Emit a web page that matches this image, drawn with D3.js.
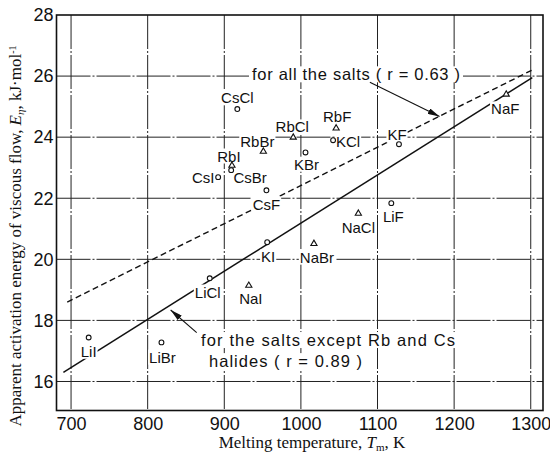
<!DOCTYPE html>
<html>
<head>
<meta charset="utf-8">
<script src="https://cdn.jsdelivr.net/npm/d3@7"></script>
<style>
  html, body { margin: 0; padding: 0; background: #fff; }
  svg { display: block; }
  .tick text { font-family: "Liberation Sans", Arial, sans-serif; font-size: 18px; fill: #111; }
  .salt { font-family: "Liberation Sans", Arial, sans-serif; font-size: 15px; fill: #111; }
  .note { font-family: "Liberation Sans", Arial, sans-serif; font-size: 16.5px; fill: #111; }
  .title { font-family: "Liberation Serif", "Times New Roman", serif; font-size: 17px; fill: #111; }
</style>
</head>
<body>
<svg id="chart" width="550" height="454"></svg>
<script>
// Alkali halides: melting temperature (K) vs. apparent activation energy of viscous flow (kJ/mol)
const salts  = ["LiI", "LiBr", "LiCl", "NaI", "KI", "CsF", "NaBr", "NaCl", "LiF", "CsCl",
                "RbCl", "RbF", "KCl", "KBr", "RbBr", "RbI", "CsBr", "CsI", "KF", "NaF"];
const meltT  = [723, 818, 881, 932, 956, 955, 1017, 1075, 1118, 917,
                990, 1046, 1042, 1006, 951, 910, 909, 892, 1128, 1268];
const energy = [17.44, 17.28, 19.38, 19.15, 20.56, 22.26, 20.52, 21.51, 21.84, 24.92,
                24.0, 24.3, 23.9, 23.5, 23.54, 23.08, 22.92, 22.69, 23.77, 25.41];
const marker = ["o", "o", "o", "t", "o", "o", "t", "t", "o", "o",
                "t", "t", "o", "o", "t", "t", "o", "o", "o", "t"];

// Regression lines (end points)
const fitAllT    = [695, 1302];
const fitAllE    = [18.6, 26.2];
const fitExceptT = [690, 1302];
const fitExceptE = [16.3, 25.95];

const xTicks = [700, 800, 900, 1000, 1100, 1200, 1300];
const yTicks = [16, 18, 20, 22, 24, 26, 28];
const yGrid  = [16, 18, 20, 22, 24, 26];

// Label placement relative to each marker (px)
const labelPos = {
  LiI: [0, 14], LiBr: [1, 15], LiCl: [-2, 14], NaI: [2, 13], KI: [1, 15], CsF: [0, 14],
  NaBr: [3, 14], NaCl: [0, 15], LiF: [2, 14], CsCl: [0, -11], RbCl: [-1, -10], RbF: [1, -11],
  KCl: [15, 2], KBr: [1, 12], RbBr: [-6, -9], RbI: [-3, -9], CsBr: [19, 8], CsI: [-15, 1],
  KF: [-2, -9], NaF: [-1, 15]
};

const svg = d3.select("#chart");
const L = 56.5, R = 543, T = 15, B = 410.5;

const x = d3.scaleLinear().domain([681, 1316]).range([L, R]);
const y = d3.scaleLinear().domain([15.05, 28]).range([B, T]);

// Grid lines
const grid = svg.append("g").attr("stroke", "#222").attr("stroke-width", 1)
  .attr("stroke-dasharray", "34,2,2,2");
grid.selectAll("line.v").data(xTicks).join("line")
  .attr("x1", d => x(d)).attr("x2", d => x(d)).attr("y1", T).attr("y2", B);
grid.selectAll("line.h").data(yGrid).join("line")
  .attr("x1", L).attr("x2", R).attr("y1", d => y(d)).attr("y2", d => y(d));

// Axes (labels only)
const xAxis = svg.append("g").attr("transform", `translate(0,${B})`)
  .call(d3.axisBottom(x).tickValues(xTicks).tickFormat(d3.format("d")).tickSize(0).tickPadding(7));
const yAxis = svg.append("g").attr("transform", `translate(${L},0)`)
  .call(d3.axisLeft(y).tickValues(yTicks).tickFormat(d3.format("d")).tickSize(0).tickPadding(3));
[xAxis, yAxis].forEach(a => a.select(".domain").remove());

// Regression lines
const line = d3.line().x(d => x(d[0])).y(d => y(d[1]));
svg.append("path").datum(d3.zip(fitAllT, fitAllE)).attr("d", line)
  .attr("fill", "none").attr("stroke", "#111").attr("stroke-width", 1.4)
  .attr("stroke-dasharray", "6,3.5");
svg.append("path").datum(d3.zip(fitExceptT, fitExceptE)).attr("d", line)
  .attr("fill", "none").attr("stroke", "#111").attr("stroke-width", 1.5);

// White box behind a text element so grid lines break around it
function backdrop(sel, pad) {
  sel.each(function () {
    const b = this.getBBox();
    d3.select(this.parentNode).insert("rect", () => this)
      .attr("x", b.x - pad).attr("y", b.y + 1).attr("width", b.width + 2 * pad)
      .attr("height", b.height - 2).attr("fill", "#fff");
  });
}

// Salt labels
const pts = salts.map((s, i) => ({ name: s, t: meltT[i], e: energy[i], m: marker[i] }));
const labels = svg.append("g").selectAll("text").data(pts).join("text")
  .attr("class", "salt")
  .attr("x", d => x(d.t) + labelPos[d.name][0])
  .attr("y", d => y(d.e) + labelPos[d.name][1])
  .attr("text-anchor", "middle")
  .attr("dy", "0.35em")
  .text(d => d.name);
backdrop(labels, 1);

// Markers
const mk = svg.append("g").attr("fill", "#fff").attr("stroke", "#111").attr("stroke-width", 1.1);
mk.selectAll("circle").data(pts.filter(d => d.m === "o")).join("circle")
  .attr("cx", d => x(d.t)).attr("cy", d => y(d.e)).attr("r", 2.4);
mk.selectAll("path").data(pts.filter(d => d.m === "t")).join("path")
  .attr("d", d => {
    const cx = x(d.t), cy = y(d.e);
    return `M${cx},${cy - 3.3}L${cx + 3.1},${cy + 2}L${cx - 3.1},${cy + 2}Z`;
  });

// Annotations
const notes = svg.append("g");
const noteAll = notes.append("text").attr("class", "note")
  .attr("x", 252).attr("y", y(26.05)).attr("dy", "0.35em")
  .attr("textLength", 208).attr("lengthAdjust", "spacing")
  .text("for all the salts ( r = 0.63 )");
const note1 = notes.append("text").attr("class", "note")
  .attr("x", 201).attr("y", y(17.35)).attr("dy", "0.35em")
  .attr("textLength", 254).attr("lengthAdjust", "spacing")
  .text("for the salts except Rb and Cs");
const note2 = notes.append("text").attr("class", "note")
  .attr("x", 209).attr("y", y(16.66)).attr("dy", "0.35em")
  .attr("textLength", 153).attr("lengthAdjust", "spacing")
  .text("halides ( r = 0.89 )");
backdrop(noteAll, 3);
backdrop(note1, 2);
backdrop(note2, 2);

// Arrows
const defs = svg.append("defs");
defs.append("marker").attr("id", "head").attr("viewBox", "0 0 12 6")
  .attr("refX", 12).attr("refY", 3).attr("markerWidth", 12).attr("markerHeight", 6)
  .attr("markerUnits", "userSpaceOnUse").attr("orient", "auto")
  .append("path").attr("d", "M0,0L12,3L0,6Z").attr("fill", "#111");
const arrows = [
  [[1090, 25.8], [1181, 24.68]],
  [[864, 17.6], [830, 18.34]]
];
svg.append("g").selectAll("path").data(arrows).join("path")
  .attr("d", line).attr("stroke", "#111").attr("stroke-width", 1.1)
  .attr("fill", "none").attr("marker-end", "url(#head)");

// Frame
svg.append("rect").attr("x", L).attr("y", T).attr("width", R - L).attr("height", B - T)
  .attr("fill", "none").attr("stroke", "#111").attr("stroke-width", 1.6);

// Axis titles
const xt = svg.append("text").attr("class", "title")
  .attr("x", 312).attr("y", 448).attr("text-anchor", "middle");
xt.append("tspan").text("Melting temperature, ");
xt.append("tspan").attr("font-style", "italic").text("T");
xt.append("tspan").attr("font-size", "11px").attr("dy", 3).text("m");
xt.append("tspan").attr("dy", -3).text(", K");

const yt = svg.append("text").attr("class", "title")
  .attr("transform", "translate(21,236) rotate(-90)").attr("text-anchor", "middle");
yt.append("tspan").text("Apparent activation energy of viscous flow, ");
yt.append("tspan").attr("font-style", "italic").text("E");
yt.append("tspan").attr("font-size", "11px").attr("dy", 3).attr("font-style", "italic").text("η");
yt.append("tspan").attr("dy", -3).text(", kJ·mol");
yt.append("tspan").attr("font-size", "10px").attr("dy", -5).text("-1");
</script>
</body>
</html>
